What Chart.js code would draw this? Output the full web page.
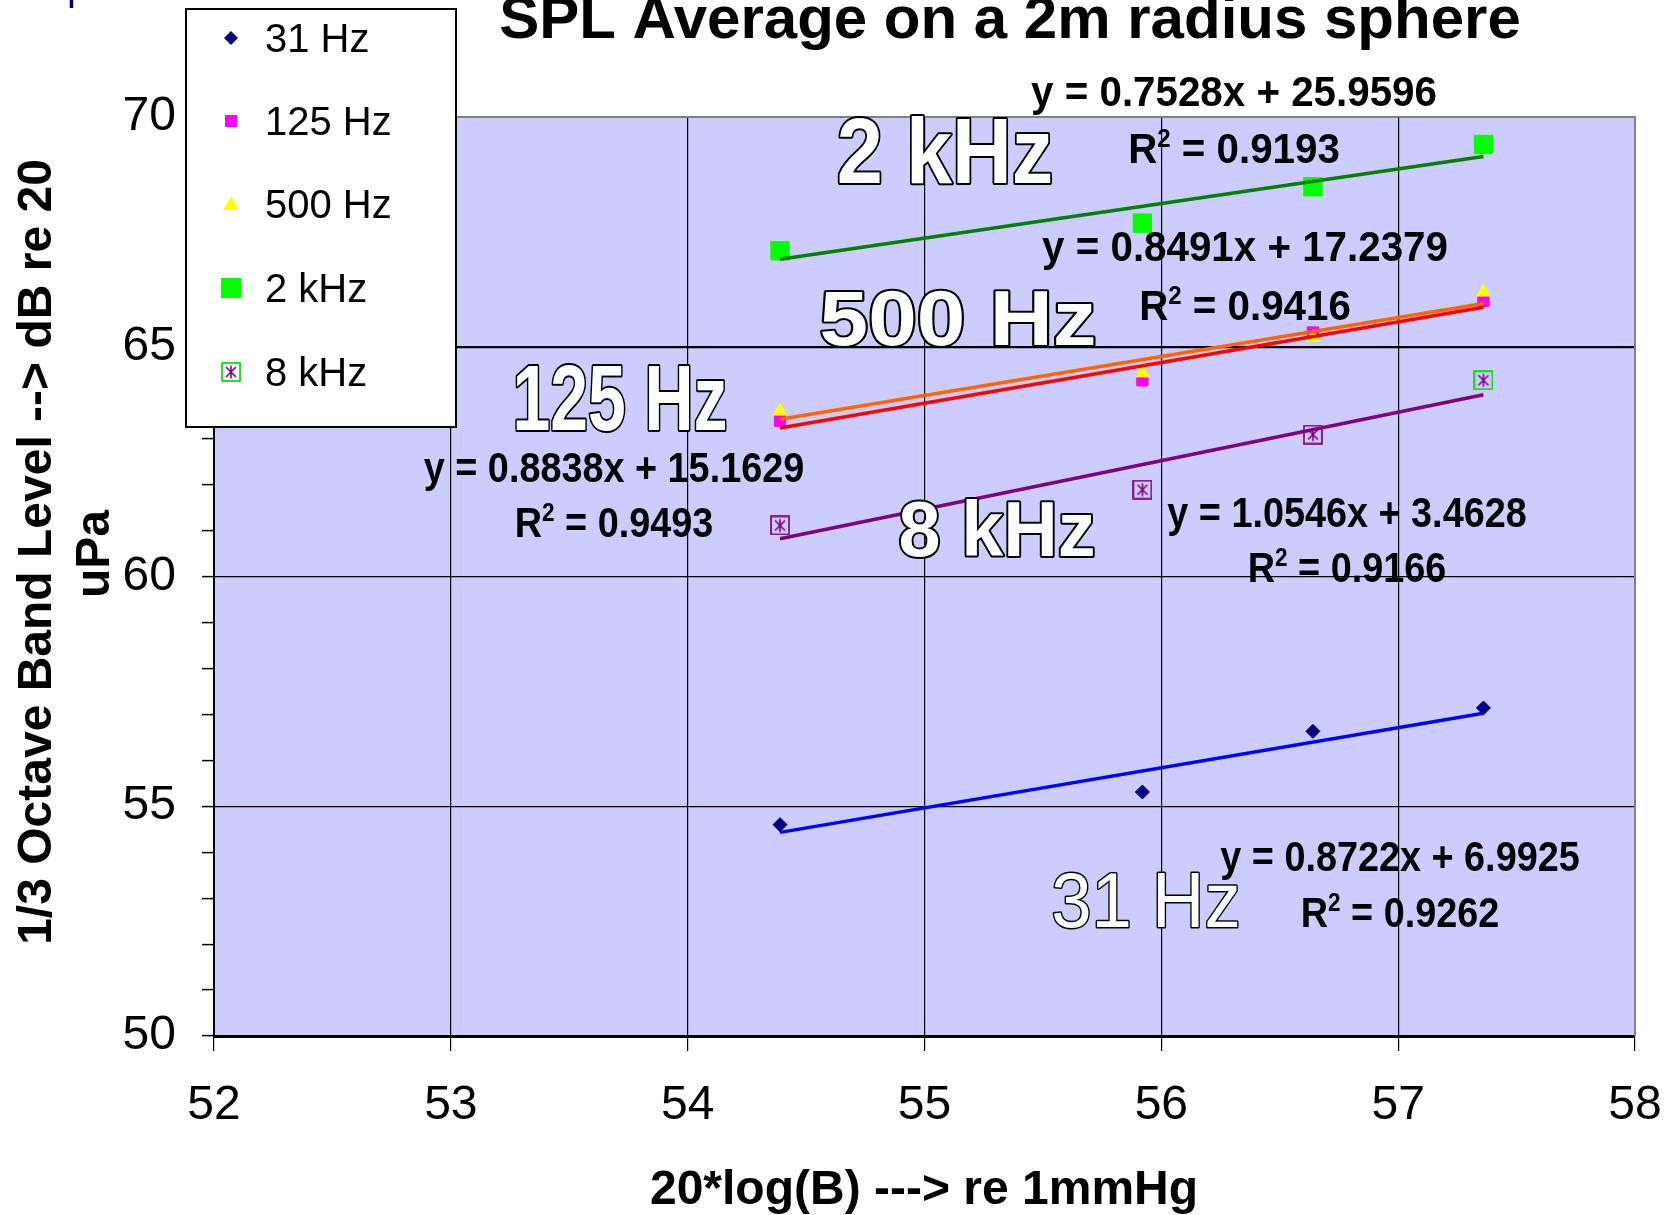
<!DOCTYPE html>
<html lang="en">
<head>
<meta charset="UTF-8">
<title>SPL Average on a 2m radius sphere</title>
<script src="https://cdn.jsdelivr.net/npm/chart.js"></script>
<style>
  html, body { margin: 0; padding: 0; background: #fff; }
  #wrap { width: 1665px; height: 1215px; position: relative; }
</style>
</head>
<body>
<div id="wrap"><canvas id="splChart"></canvas></div>
<script>
// values
const xValues = [54.39, 55.92, 56.64, 57.36];
const spl31Hz = [54.60, 55.31, 56.63, 57.14];
const spl125Hz = [63.39, 64.27, 65.31, 66.00];
const spl500Hz = [63.60, 64.43, 65.20, 66.19];
const spl2kHz = [67.09, 67.69, 68.48, 69.40];
const spl8kHz = [61.11, 61.89, 63.09, 64.27];
const seriesLabels = ['31 Hz', '125 Hz', '500 Hz', '2 kHz', '8 kHz'];
// Excel trendline labels
const trendSlopes = [0.8722, 0.8838, 0.8491, 0.7528, 1.0546];
const trendIntercepts = [6.9925, 15.1629, 17.2379, 25.9596, 3.4628];
const rSquared = ['0.9262', '0.9493', '0.9416', '0.9193', '0.9166'];

const FONT = '"Liberation Sans", Arial, sans-serif';

// 8 kHz marker: box with asterisk
function starBox(border) {
    const c = document.createElement('canvas');
    c.width = 20; c.height = 20;
    const g = c.getContext('2d');
    g.strokeStyle = border; g.lineWidth = 1.7;
    g.strokeRect(1, 1, 18, 18);
    g.strokeStyle = '#800080'; g.lineWidth = 1.6;
    g.beginPath();
    g.moveTo(10, 3.5); g.lineTo(10, 16.5);
    g.moveTo(5, 5); g.lineTo(15, 15);
    g.moveTo(15, 5); g.lineTo(5, 15);
    g.stroke();
    return c;
}
const boxPurple = starBox('#800080');
const boxGreen = starBox('#00dd00');

const allSeries = [spl31Hz, spl125Hz, spl500Hz, spl2kHz, spl8kHz];
const markerStyles = [
    { pointStyle: 'rectRot', pointRadius: 7, pointBackgroundColor: '#000080', pointBorderColor: '#000080' },
    { pointStyle: 'rect', pointRadius: 8, pointBackgroundColor: '#ff00ff', pointBorderColor: '#ff00ff' },
    { pointStyle: 'triangle', pointRadius: 8, pointBackgroundColor: '#ffff00', pointBorderColor: '#ffff00' },
    { pointStyle: 'rect', pointRadius: 13, pointBackgroundColor: '#00ff00', pointBorderColor: '#00ff00' },
    { pointStyle: [boxPurple, boxPurple, boxPurple, boxGreen], pointRadius: 10 }
];
const trendColors = ['#0000ff', '#ff0000', '#ff6600', '#008000', '#800080'];

const xMin = Math.min(...xValues), xMax = Math.max(...xValues);
const datasets = [];
allSeries.forEach((vals, i) => {
    datasets.push(Object.assign({
        label: seriesLabels[i],
        data: vals.map((v, k) => ({ x: xValues[k], y: v })),
        showLine: false,
        pointBorderWidth: 1,
        order: 5 - i
    }, markerStyles[i]));
});
allSeries.forEach((vals, i) => {
    datasets.push({
        label: seriesLabels[i] + ' trend',
        data: [xMin, xMax].map(x => ({ x: x, y: trendSlopes[i] * x + trendIntercepts[i] })),
        showLine: true,
        borderColor: trendColors[i],
        borderWidth: 3.5,
        pointRadius: 0,
        order: 0
    });
});

function txt(ctx, s, x, y, size, o) {
    o = o || {};
    ctx.save();
    ctx.font = (o.bold ? 'bold ' : '') + size + 'px ' + FONT;
    ctx.textAlign = o.align || 'center';
    ctx.textBaseline = 'alphabetic';
    ctx.translate(x, y);
    if (o.rot) ctx.rotate(o.rot);
    ctx.scale(o.sx || 1, 1);
    if (o.outline) {
        ctx.lineJoin = 'round';
        ctx.lineWidth = o.outline;
        ctx.strokeStyle = '#000';
        ctx.strokeText(s, 0, 0);
        ctx.fillStyle = '#fff';
        ctx.fillText(s, 0, 0);
    } else {
        ctx.fillStyle = o.color || '#000';
        ctx.fillText(s, 0, 0);
    }
    ctx.restore();
}

function rsqText(ctx, v, cx, y, size, sx) {
    ctx.save();
    ctx.font = 'bold ' + size + 'px ' + FONT;
    const w1 = ctx.measureText('R').width;
    const w3 = ctx.measureText(' = ' + v).width;
    ctx.font = 'bold ' + Math.round(size * 0.6) + 'px ' + FONT;
    const w2 = ctx.measureText('2').width;
    ctx.restore();
    let x0 = cx - (w1 + w2 + w3) * sx / 2;
    txt(ctx, 'R', x0, y, size, { bold: true, align: 'left', sx: sx });
    txt(ctx, '2', x0 + w1 * sx, y - size * 0.38, Math.round(size * 0.6), { bold: true, align: 'left', sx: sx });
    txt(ctx, ' = ' + v, x0 + (w1 + w2) * sx, y, size, { bold: true, align: 'left', sx: sx });
}

function legendMarker(ctx, i, x, y) {
    ctx.save();
    if (i === 0) {
        ctx.fillStyle = '#000080';
        ctx.beginPath();
        ctx.moveTo(x, y - 7); ctx.lineTo(x + 7, y); ctx.lineTo(x, y + 7); ctx.lineTo(x - 7, y);
        ctx.closePath(); ctx.fill();
    } else if (i === 1) {
        ctx.fillStyle = '#ff00ff';
        ctx.fillRect(x - 6, y - 6, 12, 12);
    } else if (i === 2) {
        ctx.fillStyle = '#ffff00';
        ctx.beginPath();
        ctx.moveTo(x, y - 8); ctx.lineTo(x + 8, y + 6); ctx.lineTo(x - 8, y + 6);
        ctx.closePath(); ctx.fill();
    } else if (i === 3) {
        ctx.fillStyle = '#00ff00';
        ctx.fillRect(x - 10, y - 10, 20, 20);
    } else {
        ctx.drawImage(boxGreen, x - 10, y - 10);
    }
    ctx.restore();
}

const decor = {
    id: 'decor',
    beforeDraw(chart) {
        const ctx = chart.ctx, a = chart.chartArea;
        ctx.save();
        ctx.fillStyle = '#fff';
        ctx.fillRect(0, 0, chart.width, chart.height);
        ctx.fillStyle = '#ccccff';
        ctx.fillRect(a.left, a.top, a.right - a.left, a.bottom - a.top);
        ctx.restore();
    },
    afterDraw(chart) {
        const ctx = chart.ctx, a = chart.chartArea;
        // gray top / right frame
        ctx.save();
        ctx.strokeStyle = '#808080';
        ctx.lineWidth = 2;
        ctx.beginPath();
        ctx.moveTo(a.left, a.top); ctx.lineTo(a.right, a.top); ctx.lineTo(a.right, a.bottom);
        ctx.stroke();
        ctx.restore();

        // big outlined series labels
        txt(ctx, '2 kHz', 945, 183, 92, { bold: true, sx: 0.9, outline: 4 });
        txt(ctx, '500 Hz', 958, 345, 78, { bold: true, sx: 1.12, outline: 4 });
        txt(ctx, '125 Hz', 620, 430, 93, { bold: true, sx: 0.73, outline: 4 });
        txt(ctx, '8 kHz', 997, 556, 77, { bold: true, sx: 0.98, outline: 4 });
        txt(ctx, '31 Hz', 1146, 927, 78, { sx: 0.93, outline: 3 });

        // trendline equations: [centre x, eq baseline, R2 baseline, x squeeze]
        const eqPos = [[1400, 871, 927, 0.9], [614, 482, 537, 0.9], [1245, 261, 320, 0.96],
                       [1234, 106, 163, 0.96], [1347, 527, 582, 0.9]];
        eqPos.forEach((p, i) => {
            const eq = 'y = ' + trendSlopes[i].toFixed(4) + 'x + ' + trendIntercepts[i].toFixed(4);
            txt(ctx, eq, p[0], p[1], 42, { bold: true, sx: p[3] });
            rsqText(ctx, rSquared[i], p[0], p[2], 42, p[3]);
        });

        // legend box
        ctx.save();
        ctx.fillStyle = '#fff';
        ctx.fillRect(186, 9, 270, 418);
        ctx.strokeStyle = '#000';
        ctx.lineWidth = 2;
        ctx.strokeRect(186, 9, 270, 418);
        ctx.restore();
        const rows = [38, 121, 204, 288, 372];
        seriesLabels.forEach((s, i) => {
            legendMarker(ctx, i, 231, rows[i]);
            txt(ctx, s, 265, rows[i] + 14, 40, { align: 'left' });
        });

        // titles
        txt(ctx, 'p', 78, 0, 40, { color: '#000080' });
        txt(ctx, 'SPL Average on a 2m radius sphere', 1010, 38, 60, { bold: true });
        txt(ctx, '20*log(B) ---> re 1mmHg', 924, 1204, 48, { bold: true });
        txt(ctx, '1/3 Octave Band Level --> dB re 20', 51, 552, 48, { bold: true, rot: -Math.PI / 2 });
        txt(ctx, 'uPa', 109, 554, 48, { bold: true, rot: -Math.PI / 2 });
    }
};

new Chart(document.getElementById('splChart'), {
    type: 'scatter',
    data: { datasets: datasets },
    options: {
        responsive: true,
        maintainAspectRatio: false,
        animation: false,
        layout: { padding: { top: 117, right: 30, left: 0, bottom: 0 } },
        plugins: { legend: { display: false }, tooltip: { enabled: false } },
        scales: {
            x: {
                type: 'linear', min: 52, max: 58,
                afterFit: s => { s.height = 179; s.paddingRight = 0; s.paddingLeft = 0; },
                ticks: { stepSize: 1, autoSkip: false, color: '#000', font: { family: FONT, size: 48 }, padding: 26, maxRotation: 0 },
                grid: {
                    color: c => c.tick && c.tick.value === 58 ? '#808080' : '#000',
                    lineWidth: 1.2, tickLength: 15, tickColor: '#000'
                },
                border: { color: '#000', width: 3 }
            },
            y: {
                min: 50, max: 70,
                afterFit: s => { s.width = 214; },
                ticks: {
                    stepSize: 1, autoSkip: false, color: '#000', font: { family: FONT, size: 48 }, padding: 26,
                    callback: v => (v % 5 === 0 ? v : '')
                },
                grid: {
                    color: c => {
                        const v = c.tick ? c.tick.value : 0;
                        if (v === 70) return '#808080';
                        return v % 5 === 0 ? '#000' : 'rgba(0,0,0,0)';
                    },
                    lineWidth: c => (c.tick && c.tick.value === 65 ? 2.2 : 1.2),
                    tickLength: 12, tickColor: '#000', tickWidth: 1.5
                },
                border: { color: '#000', width: 2 }
            }
        }
    },
    plugins: [decor]
});
</script>
</body>
</html>
